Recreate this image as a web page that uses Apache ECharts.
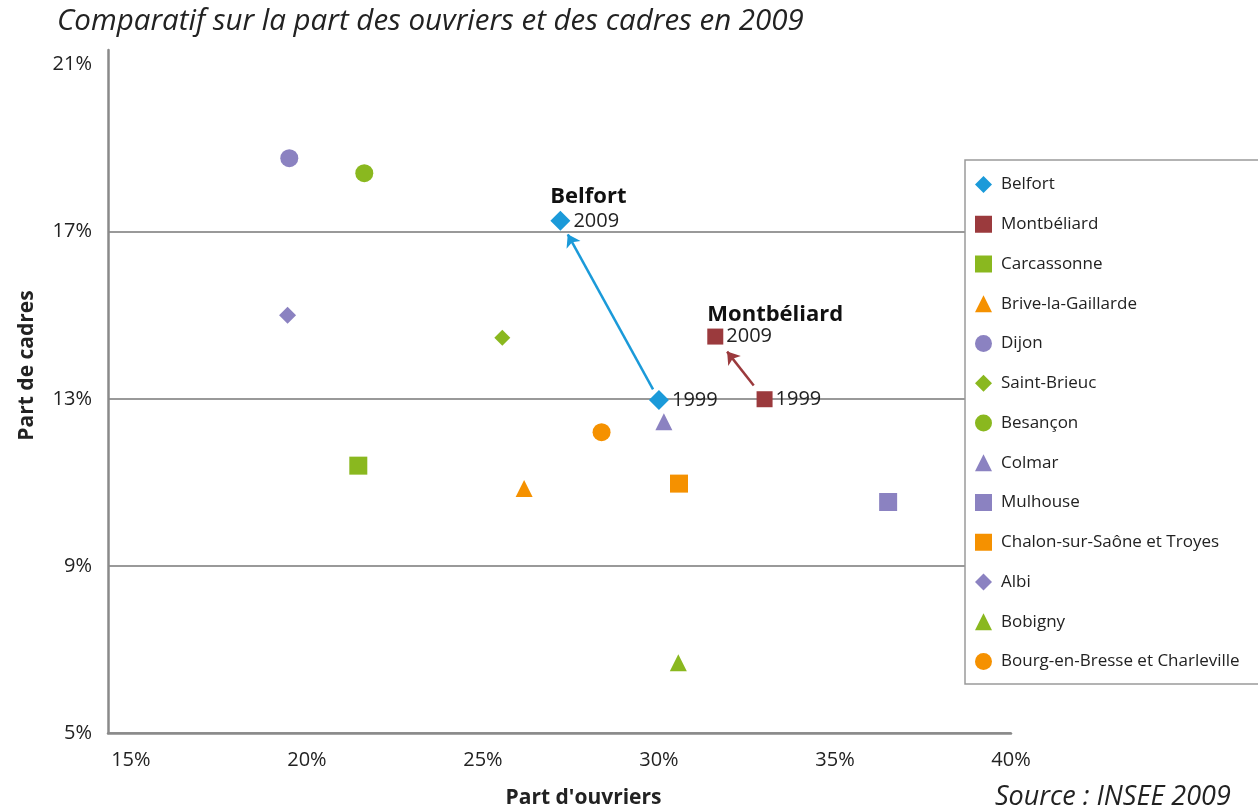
<!DOCTYPE html>
<html>
<head>
<meta charset="utf-8">
<script src="https://cdn.jsdelivr.net/npm/echarts@6/dist/echarts.min.js"></script>
<style>
  html, body { margin: 0; padding: 0; background: #fff; }
  #chart { width: 1258px; height: 807px; }
</style>
</head>
<body>
<div id="chart"></div>
<script>
// values (% of workers / % of managers)
const years = ['1999', '2009'];
const belfortX = [30.0, 27.2];
const belfortY = [12.97, 17.26];
const montbeliardX = [33.0, 31.6];
const montbeliardY = [12.99, 14.49];

const otherCities = ['Carcassonne', 'Brive-la-Gaillarde', 'Dijon', 'Saint-Brieuc', 'Besançon', 'Colmar',
  'Mulhouse', 'Chalon-sur-Saône et Troyes', 'Albi', 'Bobigny', 'Bourg-en-Bresse et Charleville'];
const otherX = [21.46, 26.17, 19.5, 25.55, 21.63, 30.14, 36.51, 30.57, 19.45, 30.55, 28.37];
const otherY = [11.4, 10.85, 18.76, 14.46, 18.4, 12.45, 10.53, 10.97, 15.0, 6.68, 12.2];

const xTicks = [15, 20, 25, 30, 35, 40];
const yTicks = [5, 9, 13, 17, 21];

// styles
const BLUE = '#1b9ad9', RED = '#9b3a3d', GREEN = '#8ab81f', ORANGE = '#f59100', PURPLE = '#8b82c1';
const otherColors = [GREEN, ORANGE, PURPLE, GREEN, GREEN, PURPLE, PURPLE, ORANGE, PURPLE, GREEN, ORANGE];
const otherSymbols = ['rect', 'triangle', 'circle', 'diamond', 'circle', 'triangle', 'rect', 'rect', 'diamond', 'triangle', 'circle'];
const otherSizes = [18, 17, 18, 16, 18, 17, 18, 18, 17, 17, 18];

const FONT = '"Open Sans"';
const chart = echarts.init(document.getElementById('chart'));

function along(x, y, t) {
  return [x[0] + (x[1] - x[0]) * t, y[0] + (y[1] - y[0]) * t];
}

function yearPoints(xs, ys) {
  return years.map((yr, i) => ({
    name: yr,
    value: [xs[i], ys[i]],
    label: {show: true, position: 'right', distance: 3, formatter: '{b}', color: '#222', fontSize: 20, fontFamily: FONT}
  }));
}

// bold city name above the 2009 point
function cityName(name, xs, ys, offset) {
  return {
    symbol: 'circle',
    symbolSize: 1,
    itemStyle: {color: 'rgba(0,0,0,0)'},
    data: [{name: name, coord: [xs[1], ys[1]]}],
    label: {show: true, position: 'top', distance: 5, formatter: name, offset: offset,
      fontWeight: 'bold', fontSize: 22, color: '#111', fontFamily: FONT}
  };
}

function arrow(color, xs, ys, t0, t1) {
  return {
    type: 'lines',
    coordinateSystem: 'cartesian2d',
    silent: true,
    z: 1,
    symbol: ['none', 'arrow'],
    symbolSize: 12,
    lineStyle: {color: color, width: 2.5, opacity: 1},
    data: [{coords: [along(xs, ys, t0), along(xs, ys, t1)]}]
  };
}

let series = [
  {
    name: 'Belfort', type: 'scatter', symbol: 'diamond', symbolSize: 20, z: 3,
    itemStyle: {color: BLUE, opacity: 1},
    data: yearPoints(belfortX, belfortY),
    markPoint: cityName('Belfort', belfortX, belfortY, [28, -8])
  },
  {
    name: 'Montbéliard', type: 'scatter', symbol: 'rect', symbolSize: 16, z: 3,
    itemStyle: {color: RED, opacity: 1},
    data: yearPoints(montbeliardX, montbeliardY),
    markPoint: cityName('Montbéliard', montbeliardX, montbeliardY, [60, -5])
  }
];

otherCities.forEach((city, i) => {
  series.push({
    name: city, type: 'scatter', symbol: otherSymbols[i], symbolSize: otherSizes[i], z: 3,
    itemStyle: {color: otherColors[i], opacity: 1},
    data: [[otherX[i], otherY[i]]]
  });
});

series.push(arrow(BLUE, belfortX, belfortY, 0.06, 0.925));
series.push(arrow(RED, montbeliardX, montbeliardY, 0.22, 0.76));

chart.setOption({
  animation: false,
  title: [
    {
      text: 'Comparatif sur la part des ouvriers et des cadres en 2009',
      left: 52, top: 2,
      textStyle: {fontFamily: FONT, fontStyle: 'italic', fontWeight: 'normal', fontSize: 29.5, color: '#222'}
    },
    {
      text: 'Source : INSEE 2009',
      left: 990, top: 779,
      textStyle: {fontFamily: FONT, fontStyle: 'italic', fontWeight: 'normal', fontSize: 27, color: '#222'}
    }
  ],
  legend: {
    data: ['Belfort', 'Montbéliard'].concat(otherCities),
    orient: 'vertical',
    left: 965, top: 160,
    padding: [16, 40, 14, 10],
    itemWidth: 17, itemHeight: 17,
    itemGap: 22.75,
    backgroundColor: '#fff',
    borderColor: '#9a9a9a', borderWidth: 1.5,
    textStyle: {fontFamily: FONT, fontSize: 17, color: '#222', padding: [0, 0, 0, 4]}
  },
  grid: {left: 108, right: 247, top: 50, bottom: 74, outerBoundsMode: 'none'},
  xAxis: {
    type: 'value', min: 14.35, max: 40,
    name: "Part d'ouvriers", nameLocation: 'middle', nameGap: 55,
    nameTextStyle: {fontFamily: FONT, fontWeight: 'bold', fontSize: 21, color: '#222', padding: [0, 0, 0, 48]},
    axisLine: {show: true, lineStyle: {color: '#8a8a8a', width: 2.5}},
    axisTick: {show: false, customValues: xTicks},
    splitLine: {show: false},
    axisLabel: {customValues: xTicks, margin: 17, formatter: '{value}%', fontFamily: FONT, fontSize: 20, color: '#222'}
  },
  yAxis: {
    type: 'value', min: 5, max: 21.35,
    name: 'Part de cadres', nameLocation: 'middle', nameGap: 70,
    nameTextStyle: {fontFamily: FONT, fontWeight: 'bold', fontSize: 21, color: '#222', padding: [0, 0, 0, 52]},
    axisLine: {show: true, lineStyle: {color: '#8a8a8a', width: 2.5}},
    axisTick: {show: false, customValues: yTicks.slice(0, 4)},
    splitLine: {show: true, lineStyle: {color: '#999', width: 2}},
    axisLabel: {customValues: yTicks, margin: 16, formatter: '{value}%', fontFamily: FONT, fontSize: 20, color: '#222'}
  },
  series: series
});
</script>
</body>
</html>
